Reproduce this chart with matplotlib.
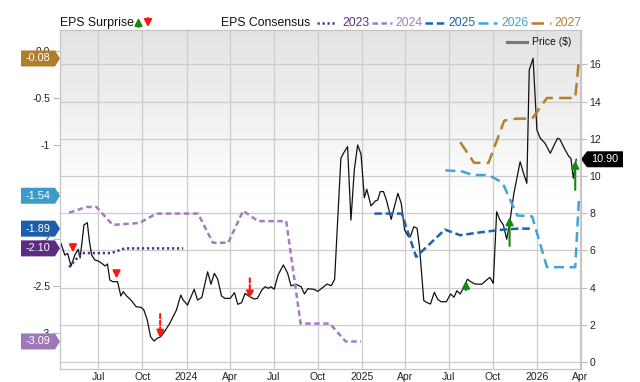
import matplotlib
matplotlib.use("Agg")
import matplotlib.pyplot as plt
import matplotlib.dates as mdates
import numpy as np
import pandas as pd
from matplotlib.colors import LinearSegmentedColormap
from matplotlib.lines import Line2D
from matplotlib.patches import Polygon
from matplotlib.ticker import FixedLocator, FuncFormatter

plt.rcParams["font.family"] = ["Liberation Sans", "DejaVu Sans"]

# ---- price ($), weekly-ish samples ----
price_dates = [
    "2023-04-14", "2023-04-22", "2023-04-28", "2023-05-05", "2023-05-13", "2023-05-20", "2023-05-24",
    "2023-06-01", "2023-06-08", "2023-06-12", "2023-06-17", "2023-06-24", "2023-07-01", "2023-07-08",
    "2023-07-15", "2023-07-20", "2023-07-25", "2023-07-31", "2023-08-10", "2023-08-17", "2023-08-22",
    "2023-08-29", "2023-09-07", "2023-09-18", "2023-09-28", "2023-10-04", "2023-10-11", "2023-10-18",
    "2023-10-25", "2023-11-01", "2023-11-08", "2023-11-16", "2023-11-27", "2023-12-11", "2023-12-20",
    "2023-12-25",
    "2024-01-03", "2024-01-12", "2024-01-17", "2024-01-24", "2024-02-02", "2024-02-07", "2024-02-14",
    "2024-02-21", "2024-02-28", "2024-03-06", "2024-03-14", "2024-03-21", "2024-04-01", "2024-04-10",
    "2024-04-17", "2024-04-25", "2024-05-02", "2024-05-12", "2024-05-21", "2024-05-28", "2024-06-06",
    "2024-06-13", "2024-06-20", "2024-06-25", "2024-07-02", "2024-07-10", "2024-07-21", "2024-07-30",
    "2024-08-06", "2024-08-16", "2024-08-27", "2024-09-03", "2024-09-10", "2024-09-22", "2024-10-01",
    "2024-10-09", "2024-10-20", "2024-10-29", "2024-11-05", "2024-11-10", "2024-11-18", "2024-11-24",
    "2024-12-02", "2024-12-09", "2024-12-16", "2024-12-23", "2024-12-30",
    "2025-01-06", "2025-01-11", "2025-01-20", "2025-01-29", "2025-02-03", "2025-02-08", "2025-02-15",
    "2025-02-22", "2025-03-03", "2025-03-10", "2025-03-17", "2025-03-24", "2025-03-31", "2025-04-07",
    "2025-04-12", "2025-04-19", "2025-04-26", "2025-05-01", "2025-05-10", "2025-05-17", "2025-05-24",
    "2025-06-01", "2025-06-08", "2025-06-15", "2025-06-26", "2025-07-05", "2025-07-12", "2025-07-18",
    "2025-07-25", "2025-08-01", "2025-08-09", "2025-08-16", "2025-08-25", "2025-09-08", "2025-09-18",
    "2025-09-25", "2025-10-02", "2025-10-09", "2025-10-16", "2025-10-23", "2025-10-30", "2025-11-06",
    "2025-11-14", "2025-11-27", "2025-12-04", "2025-12-11", "2025-12-16", "2025-12-24",
    "2026-01-01", "2026-01-08", "2026-01-18", "2026-01-29", "2026-02-05", "2026-02-13", "2026-02-18",
    "2026-03-01", "2026-03-08", "2026-03-13", "2026-03-18", "2026-03-24",
]
price_vals = [
    6.38, 5.75, 5.84, 5.16, 5.75, 6.06, 5.59, 7.37, 7.49, 6.56, 5.75, 5.48, 5.43, 5.31,
    5.16, 5.27, 4.41, 4.32, 4.32, 3.55, 3.78, 3.55, 3.33, 2.97, 2.94, 2.80, 2.26, 1.36,
    1.13, 1.27, 1.36, 1.63, 2.08, 2.80, 3.60, 3.33,
    3.06, 3.60, 3.91, 3.33, 3.48, 4.05, 4.85, 4.18, 4.77, 4.45, 3.55, 3.42, 3.42, 3.73,
    3.10, 3.19, 3.69, 3.51, 3.39, 3.42, 3.87, 4.05, 3.96, 4.05, 3.91, 4.68, 5.22, 4.77,
    4.09, 4.18, 4.05, 3.66, 3.94, 3.91, 3.80, 3.96, 4.19, 4.10, 4.45, 6.94, 10.95, 11.25,
    11.58, 7.63, 10.32, 11.67, 11.18,
    8.83, 9.29, 8.39, 8.66, 8.71, 9.16, 9.16, 8.62, 7.67, 8.39, 9.07, 8.53, 7.10, 6.77,
    6.74, 7.27, 7.19, 6.20, 3.30, 3.19, 3.12, 3.75, 3.37, 3.24, 3.24, 3.66, 3.48, 3.83,
    3.66, 4.00, 4.45, 4.32, 4.19, 4.18, 4.41, 4.55, 4.23, 8.08, 7.63, 7.37, 6.60, 7.63,
    9.07, 10.77, 10.15, 9.61, 15.70, 16.33,
    12.47, 12.03, 11.76, 11.22, 11.61, 12.03, 11.97, 11.40, 11.08, 10.95, 9.88, 10.90,
]
last_price = 10.90

# ---- EPS consensus by fiscal year ----
eps_2023_dates = ["2023-05-01", "2023-05-27", "2023-07-28", "2023-08-25", "2023-12-25"]
eps_2023_vals = [-2.30, -2.15, -2.15, -2.10, -2.10]
eps_2024_dates = ["2023-05-01", "2023-06-06", "2023-06-27", "2023-07-31", "2023-09-25", "2023-10-30",
                  "2024-01-25", "2024-02-25", "2024-03-28", "2024-04-28", "2024-05-29", "2024-07-27",
                  "2024-08-26", "2024-10-26", "2024-11-28", "2024-12-30"]
eps_2024_vals = [-1.72, -1.66, -1.66, -1.85, -1.83, -1.73, -1.73, -2.04, -2.04, -1.70, -1.81, -1.81,
                 -2.90, -2.90, -3.09, -3.09]
eps_2025_dates = ["2025-01-27", "2025-03-25", "2025-04-24", "2025-06-23", "2025-07-25", "2025-09-04",
                  "2025-10-23", "2025-11-23", "2025-12-23"]
eps_2025_vals = [-1.73, -1.73, -2.19, -1.90, -1.96, -1.93, -1.90, -1.89, -1.89]
eps_2026_dates = ["2025-06-24", "2025-07-28", "2025-08-21", "2025-09-22", "2025-10-21", "2025-11-21",
                  "2025-12-22", "2026-01-22", "2026-03-22", "2026-03-30"]
eps_2026_vals = [-1.27, -1.28, -1.32, -1.32, -1.40, -1.75, -1.76, -2.30, -2.30, -1.54]
eps_2027_dates = ["2025-07-25", "2025-08-23", "2025-09-22", "2025-10-25", "2025-11-21", "2025-12-22",
                  "2026-01-22", "2026-03-22", "2026-03-30"]
eps_2027_vals = [-0.97, -1.19, -1.19, -0.74, -0.72, -0.72, -0.50, -0.50, -0.08]

years = ["2023", "2024", "2025", "2026", "2027"]
year_colors = ["#5c2d86", "#a37cc2", "#1f61ad", "#43a3d3", "#b3802f"]
tag_colors = ["#5a2d82", "#9e78b8", "#1e5ea8", "#3a9cc9", "#b07d2b"]
tag_vals = [-2.10, -3.09, -1.89, -1.54, -0.08]
year_dashes = [(0.9, 1.1), (2.2, 1.4), (3.0, 1.5), (4.0, 2.2), (5.0, 2.5)]

# ---- EPS surprise arrows (price units) ----
surprise_dates = ["2023-05-09", "2023-08-08", "2023-11-07", "2024-05-12", "2025-08-06", "2025-11-05", "2026-03-22"]
surprise_from = [6.33, 4.89, 2.58, 4.50, 3.87, 6.24, 9.25]
surprise_to = [5.90, 4.50, 1.31, 3.42, 4.37, 7.78, 10.82]
surprise_dashed = [False, False, True, True, False, False, False]

GREEN = "#138a13"
RED = "#ff1414"
GRID = "#cccccc"
ARROW = "-|>,head_width=0.22,head_length=0.42"

fig = plt.figure(figsize=(6.4, 3.82), dpi=100)
rect = [60 / 640, 13 / 382, 521 / 640, 339 / 382]
ax = fig.add_axes(rect)  # price axis (right)
ax_eps = ax.twinx()  # eps axis (left)

x_min, x_max = pd.Timestamp("2023-04-12"), pd.Timestamp("2026-04-03")

# background gradient
cmap = LinearSegmentedColormap.from_list("bg", ["#ffffff", "#e3e3e3"])
grad = np.clip(np.linspace(1.0, -1.0, 200), 0, 1).reshape(-1, 1)
ax.imshow(grad, cmap=cmap, vmin=0, vmax=1, aspect="auto", extent=(0, 1, 0, 1),
          transform=ax.transAxes, zorder=0)

# price line
ax.plot(pd.to_datetime(price_dates), price_vals, color="#111111", lw=0.9, zorder=3)

# surprise arrows
for d, p0, p1, dashed in zip(surprise_dates, surprise_from, surprise_to, surprise_dashed):
    col = GREEN if p1 > p0 else RED
    ax.annotate("", xy=(pd.Timestamp(d), p1), xytext=(pd.Timestamp(d), p0),
                arrowprops=dict(arrowstyle=ARROW, color=col, lw=1.5,
                                ls=(0, (2, 1.2)) if dashed else "-",
                                shrinkA=0, shrinkB=0), zorder=6)

ax.set_xlim(x_min, x_max)
ax.set_ylim(-0.376, 17.85)
ax.yaxis.tick_right()
ax.set_yticks(np.arange(0, 17, 2))
ax.tick_params(axis="y", length=4, width=0.8, color="#bbbbbb", labelsize=7.5, pad=2, labelcolor="#222222")

ax.xaxis.set_major_locator(mdates.MonthLocator(bymonth=[1, 4, 7, 10]))
ax.xaxis.set_major_formatter(FuncFormatter(
    lambda v, _: mdates.num2date(v).strftime("%Y" if mdates.num2date(v).month == 1 else "%b")))
ax.tick_params(axis="x", length=0, labelsize=7.5, pad=2, labelcolor="#222222")
ax.grid(True, color=GRID, lw=0.9)
ax.set_axisbelow(True)
for s in ax.spines.values():
    s.set_color("#c4c4c4")

# EPS consensus lines
eps_dates = [eps_2023_dates, eps_2024_dates, eps_2025_dates, eps_2026_dates, eps_2027_dates]
eps_vals = [eps_2023_vals, eps_2024_vals, eps_2025_vals, eps_2026_vals, eps_2027_vals]
for d, v, c, dash in zip(eps_dates, eps_vals, year_colors, year_dashes):
    ax_eps.plot(pd.to_datetime(d), v, color=c, lw=1.8, dashes=dash, zorder=4)

ax_eps.set_xlim(x_min, x_max)
ax_eps.set_ylim(-3.383, 0.223)
ax_eps.yaxis.tick_left()
eps_ticks = [0, -0.5, -1, -1.5, -2, -2.5, -3]
ax_eps.yaxis.set_major_locator(FixedLocator(eps_ticks))
ax_eps.set_yticklabels(["0.0", "-0.5", "-1", "-1.5", "-2", "-2.5", "-3"])
ax_eps.tick_params(axis="y", length=5, width=0.8, color="#bbbbbb", labelsize=7.5, pad=2, labelcolor="#222222")
for s in ax_eps.spines.values():
    s.set_color("#c4c4c4")

# left value tags
ax_w = 521.0
ytr = ax_eps.get_yaxis_transform()
h_eps = 8 / 94.0
for v, c in zip(tag_vals, tag_colors):
    verts = [(-39 / ax_w, v - h_eps), (-5 / ax_w, v - h_eps), (0, v), (-5 / ax_w, v + h_eps), (-39 / ax_w, v + h_eps)]
    ax_eps.add_patch(Polygon(verts, closed=True, transform=ytr, facecolor=c, edgecolor="none",
                             clip_on=False, zorder=10))
    ax_eps.text(-22 / ax_w, v, f"{v:.2f}", transform=ytr, ha="center", va="center",
                color="white", fontsize=7.8, zorder=11, clip_on=False)

# right price tag
ptr = ax.get_yaxis_transform()
h_p = 8 / 18.625
verts = [(1.0, last_price), (1 + 6 / ax_w, last_price - h_p), (1 + 42 / ax_w, last_price - h_p),
         (1 + 42 / ax_w, last_price + h_p), (1 + 6 / ax_w, last_price + h_p)]
ax.add_patch(Polygon(verts, closed=True, transform=ptr, facecolor="black", edgecolor="none",
                     clip_on=False, zorder=10))
ax.text(1 + 24 / ax_w, last_price, f"{last_price:.2f}", transform=ptr, ha="center", va="center",
        color="white", fontsize=7.8, zorder=11, clip_on=False)

# top legend
H = 382.0
ly = 1 - 23 / H
fig.text(60 / 640, ly, "EPS Surprise", ha="left", va="center", fontsize=8.8, color="#111111")
fig.text(221 / 640, ly, "EPS Consensus", ha="left", va="center", fontsize=8.8, color="#111111")
ax.annotate("", xy=(138.5, H - 18), xytext=(138.5, H - 27), xycoords="figure pixels",
            arrowprops=dict(arrowstyle=ARROW, color=GREEN, lw=1.5, shrinkA=0, shrinkB=0),
            annotation_clip=False)
ax.annotate("", xy=(148, H - 27), xytext=(148, H - 18), xycoords="figure pixels",
            arrowprops=dict(arrowstyle=ARROW, color=RED, lw=1.5, shrinkA=0, shrinkB=0),
            annotation_clip=False)
line_x = [(317, 337), (372, 392), (425, 445), (478, 497), (531, 551)]
text_x = [342, 395, 448, 501, 554]
for (x0, x1), tx, yr, c, dash in zip(line_x, text_x, years, year_colors, year_dashes):
    fig.add_artist(Line2D([x0 / 640, x1 / 640], [ly, ly], transform=fig.transFigure,
                          color=c, lw=1.8, dashes=dash))
    fig.text(tx / 640, ly, yr, ha="left", va="center", fontsize=8.8, color=c)

# price legend inside plot
py = 1 - 42 / H
fig.add_artist(Line2D([507 / 640, 527 / 640], [py, py], transform=fig.transFigure, color="#777777", lw=2.2))
fig.text(532 / 640, py, "Price ($)", ha="left", va="center", fontsize=7.5, color="#111111")

fig.savefig("out.png", dpi=100)
